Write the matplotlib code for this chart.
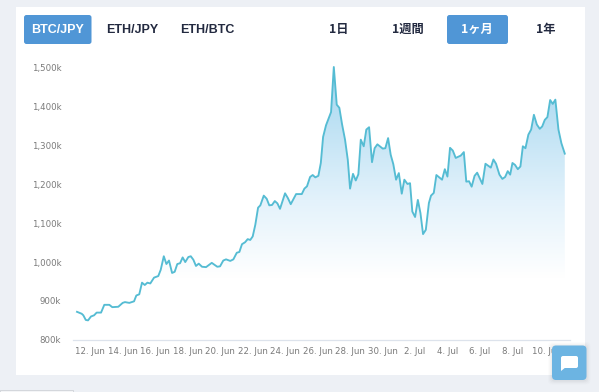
import numpy as np
import matplotlib
matplotlib.use('Agg')
import matplotlib.pyplot as plt
from matplotlib.colors import LinearSegmentedColormap
from matplotlib.patches import FancyBboxPatch, Polygon, Rectangle

# Days since 12 Jun
days = [-0.80, -0.51, -0.41, -0.26, -0.12, 0.06, 0.25, 0.41, 0.68, 0.88, 1.19, 1.37, 1.74, 2.01, 2.15, 2.42,
        2.71, 2.85, 3.03, 3.20, 3.37, 3.53, 3.71, 3.94, 4.20, 4.35, 4.54, 4.70, 4.86, 5.05, 5.21, 5.37,
        5.54, 5.70, 5.86, 6.05, 6.20, 6.36, 6.52, 6.69, 6.89, 7.14, 7.49, 7.83, 8.00, 8.20, 8.37, 8.63,
        8.82, 9.03, 9.19, 9.35, 9.54, 9.70, 9.86, 10.01, 10.17, 10.34, 10.48, 10.69, 10.87, 11.03, 11.20, 11.37,
        11.53, 11.69, 12.00, 12.17, 12.35, 12.68, 13.03, 13.19, 13.35, 13.54, 13.70, 13.86, 14.05, 14.20, 14.34, 14.52,
        14.83, 15.00, 15.18, 15.34, 15.51, 15.69, 15.86, 16.00, 16.18, 16.35, 16.51, 16.66, 16.84, 17.00, 17.17, 17.35,
        17.51, 17.68, 18.01, 18.17, 18.34, 18.50, 18.66, 18.83, 19.00, 19.18, 19.34, 19.53, 19.69, 19.83, 20.00, 20.17,
        20.33, 20.49, 20.66, 20.85, 20.98, 21.15, 21.31, 21.66, 21.83, 21.99, 22.15, 22.32, 22.50, 22.81, 23.00, 23.15,
        23.32, 23.48, 23.66, 23.82, 24.14, 24.33, 24.66, 24.82, 24.98, 25.19, 25.37, 25.54, 25.70, 25.85, 25.99, 26.15,
        26.32, 26.48, 26.63, 26.79, 26.97, 27.14, 27.31, 27.49, 27.67, 27.82, 27.98, 28.14, 28.31, 28.47, 28.63, 28.82,
        29.00, 29.21]
# BTC/JPY in thousands
price = [872, 867, 863, 851, 850, 860, 863, 870, 870, 890, 890, 884, 885, 895, 897, 895,
         899, 914, 917, 947, 941, 947, 945, 960, 964, 980, 1015, 995, 1004, 972, 975, 995,
         997, 1012, 1000, 1013, 1015, 1006, 990, 996, 988, 987, 998, 988, 989, 1004, 1007, 1003,
         1007, 1024, 1026, 1046, 1051, 1059, 1057, 1066, 1096, 1140, 1146, 1171, 1163, 1146, 1147, 1157,
         1151, 1137, 1177, 1165, 1149, 1175, 1175, 1189, 1195, 1219, 1224, 1218, 1222, 1255, 1322, 1352,
         1386, 1502, 1405, 1397, 1354, 1315, 1263, 1189, 1227, 1210, 1226, 1315, 1298, 1341, 1347, 1257,
         1293, 1303, 1292, 1293, 1319, 1276, 1252, 1212, 1229, 1176, 1212, 1201, 1203, 1130, 1116, 1160,
         1126, 1072, 1083, 1152, 1171, 1178, 1224, 1212, 1239, 1220, 1294, 1287, 1268, 1274, 1283, 1207,
         1208, 1194, 1222, 1230, 1201, 1253, 1243, 1264, 1253, 1225, 1214, 1219, 1234, 1225, 1255, 1250,
         1239, 1246, 1298, 1293, 1328, 1341, 1379, 1354, 1343, 1349, 1366, 1373, 1417, 1407, 1418, 1341,
         1306, 1279]

y_ticks = [800, 900, 1000, 1100, 1200, 1300, 1400, 1500]
y_labels = ['800k', '900k', '1,000k', '1,100k', '1,200k', '1,300k', '1,400k', '1,500k']
x_ticks = list(range(0, 30, 2))
x_labels = ['12. Jun', '14. Jun', '16. Jun', '18. Jun', '20. Jun', '22. Jun', '24. Jun', '26. Jun',
            '28. Jun', '30. Jun', '2. Jul', '4. Jul', '6. Jul', '8. Jul', '10. Jul']

pair_tabs = ['BTC/JPY', 'ETH/JPY', 'ETH/BTC']
pair_x = [57.5, 132.5, 207.5]
range_tabs = ['1日', '1週間', '1ヶ月', '1年']
range_x = [339, 408, 477, 546]

W, H = 599, 392
fig = plt.figure(figsize=(W / 100, H / 100), dpi=100, facecolor='#edf0f5')


def pixel_axes(zorder):
    a = fig.add_axes([0, 0, 1, 1], zorder=zorder)
    a.set_xlim(0, W)
    a.set_ylim(H, 0)
    a.axis('off')
    return a


def button(a, x0, y0, x1, y1, color, r=2.5):
    a.add_patch(FancyBboxPatch((x0 + r, y0 + r), x1 - x0 - 2 * r, y1 - y0 - 2 * r,
                               boxstyle=f'round,pad={r},rounding_size={r}', fc=color, ec='none'))


# Page background, card and tab buttons
bg = pixel_axes(0)
bg.add_patch(Rectangle((16, 7), 569, 368, fc='white', ec='none'))
bg.add_patch(Rectangle((0, 390), 73, 2, fc='#f4f5f7', ec='#c9ccd1', lw=0.5))
button(bg, 24, 15, 91.5, 44, '#5096d6')
button(bg, 447, 15, 508, 44, '#5096d6')

for i, (tab, x) in enumerate(zip(pair_tabs, pair_x)):
    bg.text(x, 29.5, tab, ha='center', va='center', fontsize=9.0, fontweight='bold',
            family='Liberation Sans', color='white' if i == 0 else '#232a40')
for i, (tab, x) in enumerate(zip(range_tabs, range_x)):
    bg.text(x, 29, tab, ha='center', va='center', fontsize=8.8, fontweight='bold',
            family='Noto Sans CJK JP', color='white' if i == 2 else '#232a40')

# Chart area in pixels: x 73-569.5, y 60-339.8
ax = fig.add_axes([73 / W, 1 - 339.8 / H, 496.5 / W, 279.8 / H], zorder=1)
ax.patch.set_alpha(0)

# Area under the line with a vertical gradient
cmap = LinearSegmentedColormap.from_list('area', [(0, '#ffffff'), (0.37, '#e3f2fb'), (0.8, '#b8dff3'), (1, '#a3d6ee')])
grad = ax.imshow(np.linspace(1, 0, 256).reshape(-1, 1), cmap=cmap, aspect='auto', vmin=0, vmax=1,
                 extent=[days[0], days[-1], 960, 1500], zorder=1)
area = Polygon(list(zip(days, price)) + [(days[-1], 800), (days[0], 800)], closed=True,
               transform=ax.transData, fc='none', ec='none')
ax.add_patch(area)
grad.set_clip_path(area)
ax.set_xlim(-1.046, 29.5)
ax.set_ylim(800, 1520)

ax.plot(days, price, color='#55bcd3', lw=1.35, zorder=2, solid_joinstyle='round')

for side in ['top', 'left', 'right']:
    ax.spines[side].set_visible(False)
ax.spines['bottom'].set_color('#dde3ec')
ax.spines['bottom'].set_linewidth(0.9)
ax.set_yticks(y_ticks)
ax.set_yticklabels(y_labels)
ax.set_xticks(x_ticks)
ax.set_xticklabels(x_labels)
ax.tick_params(axis='both', length=0, labelsize=6.2, labelcolor='#7a7a7a')
ax.tick_params(axis='y', pad=8.5)
ax.tick_params(axis='x', pad=5)

# Chat button over the chart
fg = pixel_axes(2)
for grow, alpha in [(4, 0.012), (3, 0.015), (2, 0.02), (1, 0.025)]:
    shadow = FancyBboxPatch((556 - grow, 350 - grow), 26.5 + 2 * grow, 26.5 + 2 * grow,
                            boxstyle='round,pad=4,rounding_size=4', fc='black', ec='none', alpha=alpha)
    fg.add_patch(shadow)
button(fg, 552, 345.5, 586.5, 380, '#6cb4e2', r=4)
button(fg, 561, 356, 578, 368, 'white', r=2)
fg.add_patch(Polygon([(561, 365), (561, 371), (566, 367)], closed=True, fc='white', ec='none'))

plt.savefig('out.png', dpi=100, facecolor=fig.get_facecolor())
